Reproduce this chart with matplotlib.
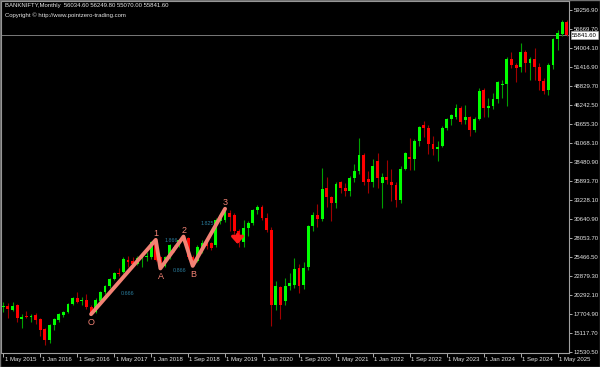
import matplotlib
matplotlib.use("Agg")
import matplotlib.pyplot as plt
from matplotlib.transforms import blended_transform_factory
from matplotlib.patches import Rectangle
import numpy as np

# ---------------- data (BANKNIFTY monthly, May 2015 .. Jul 2025) ----------------
opens = [18650, 18800, 18300, 18950, 17050, 17480, 17350, 17580, 17040, 15670,
         14170, 16220, 16900, 17580, 18000, 19090, 19900, 19500, 19630, 18680,
         17990, 19500, 20700, 21550, 22500, 23320, 23500, 25100, 25000, 24500,
         25400, 25450, 25550, 27700, 25500, 24300, 25500, 26900, 27100, 27800,
         28100, 25500, 25000, 26500, 27400, 27400, 27100, 30400, 30600, 31500,
         31300, 29000, 27600, 29500, 30150, 31900, 32300, 30800, 29200, 19000,
         21400, 19500, 21500, 21700, 24000, 21700, 24100, 29700, 31300, 30700,
         34900, 33700, 32900, 35700, 34900, 34500, 36300, 37300, 39500, 36100,
         35700, 38600, 35600, 36400, 35800, 35300, 33300, 37600, 39200, 38900,
         41300, 43600, 43100, 41000, 40300, 40700, 43200, 44400, 44700, 45900,
         44200, 44600, 42800, 44400, 48300, 45900, 46100, 47100, 49000, 49200,
         52600, 51700, 51500, 53500, 52000, 52500, 51500, 49500, 48300, 51800,
         55300, 56000, 57600]
highs = [19300, 19200, 19350, 19100, 17700, 18130, 17700, 17800, 17200, 15800,
         16350, 17170, 17850, 18200, 19200, 20050, 20700, 20050, 20450, 18900,
         19900, 20900, 21700, 22700, 23500, 24000, 25500, 25600, 25500, 25600,
         26100, 26200, 27700, 27850, 25700, 25700, 27300, 27200, 28000, 28300,
         28250, 25800, 27100, 27800, 27800, 27600, 30800, 31500, 32100, 31900,
         31500, 29300, 30600, 30400, 32100, 32600, 32600, 31500, 29600, 22200,
         21600, 22600, 23300, 25400, 24500, 24800, 29900, 31600, 32800, 37700,
         36500, 33900, 35700, 35900, 35600, 36600, 38200, 41800, 39700, 37300,
         38900, 39700, 37000, 38700, 37600, 35700, 37900, 39900, 41800, 41600,
         43400, 44100, 43600, 42000, 41300, 43400, 44500, 45000, 46400, 46100,
         46300, 44800, 44600, 48600, 48600, 47200, 47900, 49500, 49700, 52800,
         53500, 52000, 54700, 53800, 52900, 54000, 52000, 50000, 52000, 55400,
         56500, 57900, 57900]
lows = [18000, 17200, 18100, 16650, 15800, 17170, 16660, 16360, 14720, 13450,
        13800, 15540, 16600, 17300, 17850, 18900, 19220, 18950, 18400, 17700,
        17800, 19300, 20500, 21300, 22300, 22900, 23300, 24100, 24300, 24400,
        24200, 24900, 25300, 24900, 23950, 24100, 25200, 26200, 26900, 27600,
        25300, 24300, 24800, 26000, 26600, 26500, 26900, 30000, 30300, 29000,
        28700, 26900, 26900, 28400, 29900, 31400, 30500, 28900, 16100, 18300,
        17000, 19000, 21000, 21300, 20600, 21200, 23800, 29000, 29600, 30400,
        32400, 30400, 32200, 34200, 33900, 33800, 35800, 36900, 35300, 34200,
        35100, 34900, 32200, 35500, 33200, 32300, 32900, 37400, 37400, 37400,
        40700, 41900, 39600, 39400, 38600, 40500, 42900, 43500, 44400, 43700,
        43700, 42100, 42600, 44200, 44600, 44700, 45800, 46600, 47200, 46100,
        51300, 49400, 50800, 50800, 49700, 49700, 48300, 47800, 47600, 51200,
        53800, 55700, 55700]
closes = [18800, 18420, 18820, 17170, 17250, 17350, 17480, 16900, 15540, 14170,
          16220, 17040, 17720, 18000, 19090, 19900, 19360, 19630, 18680, 17850,
          19630, 20700, 21550, 22500, 23320, 23180, 25300, 24800, 24500, 25400,
          25450, 25700, 27550, 25100, 24200, 25500, 27100, 26500, 27800, 28100,
          25500, 24700, 26900, 27400, 27000, 26800, 30600, 31300, 32000, 31000,
          29000, 27600, 29500, 30150, 31900, 32300, 30800, 29200, 19000, 21500,
          19000, 21500, 22000, 23900, 21500, 24000, 29700, 31300, 30700, 34800,
          33700, 32900, 35500, 34900, 34500, 36300, 37300, 39400, 35700, 35700,
          38000, 36300, 36400, 36000, 35350, 33300, 37600, 39700, 38900, 41300,
          43300, 43100, 40900, 40300, 40600, 43200, 44400, 44900, 45900, 44000,
          44600, 42800, 44300, 48200, 45900, 46200, 47100, 49400, 49200, 52500,
          51700, 51300, 53500, 52000, 52500, 51500, 49500, 48200, 51800, 55300,
          56100, 57600, 55841.6]

xtick_idx = [0, 8, 16, 24, 32, 40, 48, 56, 64, 72, 80, 88, 96, 104, 112, 120]
xtick_labels = ["1 May 2015", "1 Jan 2016", "1 Sep 2016", "1 May 2017", "1 Jan 2018",
                "1 Sep 2018", "1 May 2019", "1 Jan 2020", "1 Sep 2020", "1 May 2021",
                "1 Jan 2022", "1 Sep 2022", "1 May 2023", "1 Jan 2024", "1 Sep 2024",
                "1 May 2025"]
ytick_labels = ["12530.50", "15117.70", "17704.90", "20292.10", "22879.30", "25466.50",
                "28053.70", "30640.90", "33228.10", "35893.70", "38480.90", "41068.10",
                "43655.30", "46242.50", "48829.70", "51416.90", "54004.10", "56669.70",
                "59256.90"]
ytick_first = 12530.5
ytick_last = 59256.9

header = "BANKNIFTY,Monthly  56034.60 56249.80 55070.00 55841.60"
copyright_text = "Copyright \u00a9 http://www.pointzero-trading.com"
last_price = 55841.6
last_price_label = "55841.60"

# wave pattern (vertex candle index, high/low, name)
wave_idx = [19, 33, 34, 39, 41, 48]
wave_kind = ["L", "H", "L", "H", "L", "H"]
wave_names = ["O", "1", "A", "2", "B", "3"]
ratio_segments = [0, 2, 3, 4]
ratio_labels = ["0.666", "1.866", "0.866", "1.825"]
sell_arrow_idx = 51

# ---------------- drawing ----------------
FONT = ["Liberation Sans", "DejaVu Sans"]
TXT = "#e6e6e6"
GRID = "#a0a0a0"
SALMON = "#f28274"

fig = plt.figure(figsize=(6, 3.67), dpi=100, facecolor="black")
ax = fig.add_axes([1 / 600, 14 / 367, 568 / 600, 352 / 367], facecolor="black")

O = np.array(opens, float)
H = np.array(highs, float)
L = np.array(lows, float)
C = np.array(closes, float)
x = np.arange(len(C))
up = C >= O
body_col = np.where(up, "#00ff00", "#ff0000")
wick_col = np.where(up, "#00a000", "#a00000")
bottoms = np.minimum(O, C)
heights = np.maximum(np.abs(C - O), 140)

ax.vlines(x, L, H, colors=wick_col, linewidth=0.8, zorder=2)
ax.bar(x, heights, bottom=bottoms, width=0.62, color=body_col, linewidth=0, zorder=3)

ax.set_xlim(-0.5, 122.45)
ax.set_ylim(12394, 60488)

# price line
ax.axhline(last_price, color="#8c8c8c", lw=0.6, zorder=1)
bt = blended_transform_factory(ax.transAxes, ax.transData)
ax.text(1.0 + 3 / 568, last_price, last_price_label, transform=bt, ha="left", va="center",
        fontsize=4.3, color="black", family=FONT, clip_on=False,
        bbox=dict(boxstyle="square,pad=0.25", fc="white", ec="#c0c0c0", lw=0.4))

# spines
for s in ax.spines.values():
    s.set_color(GRID)
    s.set_linewidth(0.8)

# y axis on the right
yt = np.linspace(ytick_first, ytick_last, len(ytick_labels))
ax.yaxis.tick_right()
ax.set_yticks(yt)
ax.set_yticklabels(ytick_labels, fontsize=4.3, color=TXT, family=FONT)
ax.tick_params(axis="y", length=2.2, width=0.6, color="#c8c8c8", pad=1.2)

# x axis ticks with left-aligned labels
ax.set_xticks(xtick_idx)
ax.set_xticklabels([])
ax.tick_params(axis="x", length=3, width=0.6, color="#c8c8c8", direction="out")
bx = blended_transform_factory(ax.transData, ax.transAxes)
for k, lab in zip(xtick_idx, xtick_labels):
    ax.text(k + 0.3, -0.018, lab, transform=bx, ha="left", va="center",
            fontsize=4.3, color=TXT, family=FONT, clip_on=False)

# wave pattern
wp = [H[i] if kd == "H" else L[i] for i, kd in zip(wave_idx, wave_kind)]
ax.plot(wave_idx, wp, color=SALMON, lw=2.8, solid_capstyle="round",
        solid_joinstyle="round", zorder=4)
for i, p, kd, nm in zip(wave_idx, wp, wave_kind, wave_names):
    dy = 4.5 if kd == "H" else -6
    ax.annotate(nm, (i, p), xytext=(0.3, dy), textcoords="offset points",
                ha="center", va="center", fontsize=6.5, color=SALMON, family=FONT,
                zorder=5)
ratio_offsets = [(3.2, -12.2), (-0.6, 8.3), (-6.1, -14.0), (-1.3, 9.7)]
for seg, lab, off in zip(ratio_segments, ratio_labels, ratio_offsets):
    mx = (wave_idx[seg] + wave_idx[seg + 1]) / 2
    my = (wp[seg] + wp[seg + 1]) / 2
    ax.annotate(lab, (mx, my), xytext=off, textcoords="offset points", ha="center",
                va="center", fontsize=3.9, color="#2a7c9c", family=FONT, zorder=5)

# sell arrow
k = sell_arrow_idx
ax.annotate("", xy=(k - 0.3, L[k]), xytext=(k - 0.3, O[k]),
            arrowprops=dict(arrowstyle="-|>,head_width=0.45,head_length=0.5",
                            color="#ff1a1a", lw=2.2, mutation_scale=8), zorder=5)

# header texts
fig.text(5 / 600, 1 - 6 / 367, header, ha="left", va="center", fontsize=4.3,
         color=TXT, family=FONT)
fig.text(5 / 600, 1 - 15 / 367, copyright_text, ha="left", va="center", fontsize=4.3,
         color=TXT, family=FONT)

fig.patches.append(Rectangle((0, 0), 1, 1, transform=fig.transFigure, fill=False,
                             ec="#707070", lw=1.0))

fig.savefig("out.png", dpi=100, facecolor="black")
